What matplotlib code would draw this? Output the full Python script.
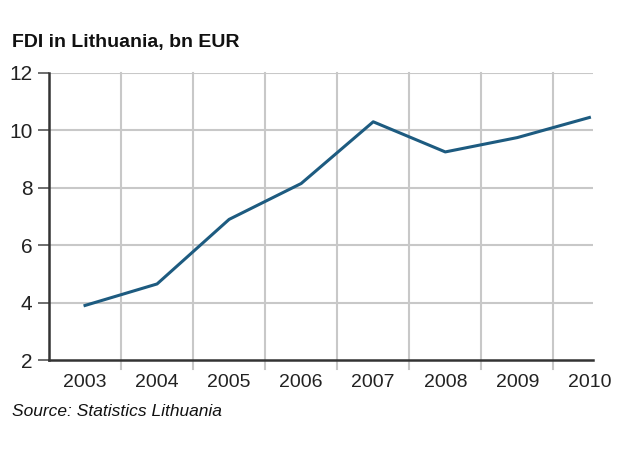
import matplotlib
matplotlib.use('Agg')
import matplotlib.pyplot as plt
from matplotlib import font_manager

years = ['2003', '2004', '2005', '2006', '2007', '2008', '2009', '2010']
fdi = [3.9, 4.65, 6.9, 8.15, 10.3, 9.25, 9.75, 10.45]
y_ticks = [2, 4, 6, 8, 10, 12]

names = {f.name for f in font_manager.fontManager.ttflist}
fam = ['Liberation Sans Narrow', 'DejaVu Sans'] if 'Liberation Sans Narrow' in names else ['Liberation Sans', 'DejaVu Sans']
plt.rcParams['font.family'] = fam

fig = plt.figure(figsize=(6.23, 4.66), dpi=100)
ax = fig.add_axes([49 / 623, 106 / 466, 544 / 623, 287 / 466])

x = list(range(len(years)))
ax.plot(x, fdi, color='#1d5b80', lw=2.2, zorder=3)

ax.set_xlim(-0.5, 7.05)
ax.set_ylim(2, 12)
ax.set_yticks(y_ticks)
ax.set_yticklabels([str(t) for t in y_ticks], fontsize=15, color='#222222')
ax.set_xticks(x)
ax.set_xticklabels(years, fontsize=14, color='#222222')
ax.tick_params(axis='x', length=0, pad=10)
ax.tick_params(axis='y', length=8, width=1.2, color='#555555', pad=4)

for t in y_ticks[1:]:
    ax.axhline(t, color='#c8c8c8', lw=1.5, zorder=1)
for i in range(len(years) - 1):
    ax.plot([i + 0.5, i + 0.5], [1.7, 12], color='#c8c8c8', lw=1.5, zorder=1, clip_on=False)

for s in ['top', 'right']:
    ax.spines[s].set_visible(False)
ax.spines['left'].set_color('#333333')
ax.spines['left'].set_linewidth(1.8)
ax.spines['bottom'].set_color('#333333')
ax.spines['bottom'].set_linewidth(1.8)

fig.text(12 / 623, 1 - 42 / 466, 'FDI in Lithuania, bn EUR', fontsize=14, fontweight='bold',
         va='center', ha='left', color='#111111')
fig.text(12 / 623, 1 - 412 / 466, 'Source: Statistics Lithuania', fontsize=12.5, fontstyle='italic',
         va='center', ha='left', color='#111111')

fig.savefig('out.png', dpi=100)
